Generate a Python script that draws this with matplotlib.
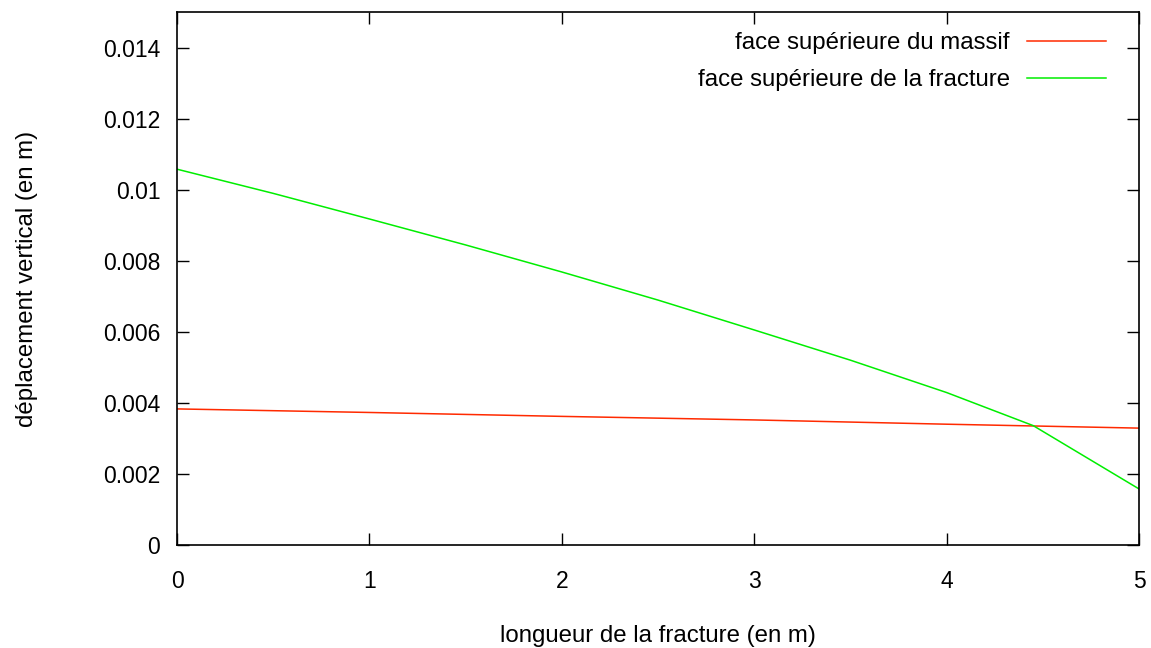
import numpy as np
import matplotlib.pyplot as plt
from matplotlib.ticker import FuncFormatter

# values
x_massif = [0, 1, 2, 3, 4, 5]
y_massif = [0.00384, 0.00374, 0.00363, 0.00353, 0.00341, 0.00330]

x_fracture = [0, 0.5, 1, 1.5, 2, 2.5, 3, 3.5, 4, 4.45, 5]
y_fracture = [0.01058, 0.00990, 0.00918, 0.00845, 0.00769, 0.00690,
              0.00606, 0.00521, 0.00430, 0.00337, 0.00159]

x_ticks = [0, 1, 2, 3, 4, 5]
y_ticks = [0, 0.002, 0.004, 0.006, 0.008, 0.010, 0.012, 0.014]

plt.rcParams["font.family"] = ["Liberation Sans", "DejaVu Sans"]
fs = 16.5
fs_lab = 17.3

fig = plt.figure(figsize=(11.51, 6.48), dpi=100)
ax = fig.add_axes([0.1538, 0.1582, 0.8358, 0.8233])

ax.plot(x_massif, y_massif, color="#ff2a00", lw=1.1,
        label="face supérieure du massif")
ax.plot(x_fracture, y_fracture, color="#00ee00", lw=1.1,
        label="face supérieure de la fracture")

ax.set_xlim(0, 5)
ax.set_ylim(0, 0.015)
ax.set_xticks(x_ticks)
ax.set_yticks(y_ticks)
ax.yaxis.set_major_formatter(FuncFormatter(lambda v, p: "%g" % v))

ax.tick_params(direction="in", length=8.5, width=1.0, top=True, right=True,
               labelsize=fs)
ax.tick_params(axis="y", pad=12)
ax.tick_params(axis="x", pad=18)
for s in ax.spines.values():
    s.set_linewidth(1.2)

ax.set_xlabel("longueur de la fracture (en m)", fontsize=fs_lab, labelpad=23)
ax.set_ylabel("déplacement vertical (en m)", fontsize=fs_lab, labelpad=47)

ax.legend(loc="upper right", frameon=False, markerfirst=False,
          handlelength=3.3, handletextpad=0.7, labelspacing=0.62,
          borderpad=0, borderaxespad=0,
          bbox_to_anchor=(0.9657, 0.962), fontsize=fs_lab)

plt.savefig("out.png", dpi=100)
